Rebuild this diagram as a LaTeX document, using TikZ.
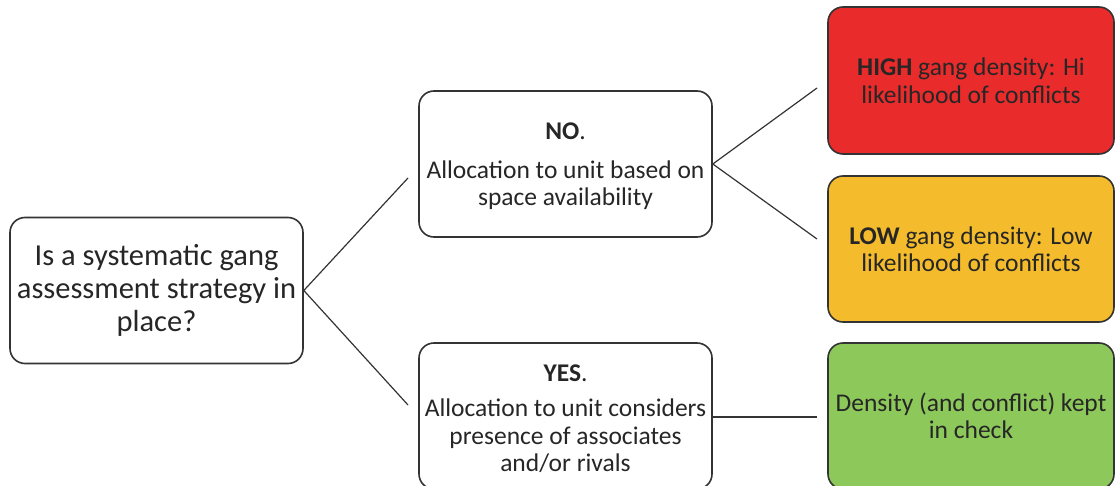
\documentclass[tikz,border=0pt]{standalone}
\usepackage{fontspec}
\setmainfont{Carlito}
\definecolor{txt}{HTML}{262626}
\definecolor{boxred}{HTML}{EA2B2B}
\definecolor{boxyellow}{HTML}{F4BC2C}
\definecolor{boxgreen}{HTML}{8DC85A}
\definecolor{edge}{HTML}{333333}
\newcommand{\topgap}{\rule{0pt}{22pt}}
\tikzset{
  box/.style={draw=edge, line width=1.6pt, rounded corners=15pt, fill=white,
    minimum width=293pt, minimum height=146pt, align=center, text=txt,
    inner sep=0pt, font=\fontsize{25.5}{27.5}\selectfont},
  bigbox/.style={box, font=\fontsize{30.5}{33}\selectfont},
  link/.style={draw=edge, line width=1.2pt}
}
\begin{document}
\begin{tikzpicture}[x=1pt, y=-1pt]
\useasboundingbox (0,0) rectangle (1115,486);
\clip (0,0) rectangle (1115,486);
\node[bigbox] (q) at (156.5,290.5) {Is a systematic gang\\assessment strategy in\\place?};
\node[box] (no) at (565.5,164) {\topgap\textbf{NO}.\\[11pt]Allocation to unit based on\\space availability};
\node[box] (yes) at (565.5,416) {\topgap\textbf{YES}.\\[8pt]Allocation to unit considers\\presence of associates\\and/or rivals};
\node[box, fill=boxred, minimum width=286pt, minimum height=147pt] (high) at (971,80.5) {\textbf{HIGH} gang density: Hi\\likelihood of conflicts};
\node[box, fill=boxyellow, minimum width=286pt] (low) at (971,249) {\textbf{LOW} gang density: Low\\likelihood of conflicts};
\node[box, fill=boxgreen, minimum width=286pt] (chk) at (971,416) {Density (and conflict) kept\\in check};
\coordinate (qa) at (408,178);
\coordinate (qb) at (408,405);
\coordinate (na) at (817,88);
\coordinate (nb) at (817,239);
\coordinate (ya) at (817,417);
\draw[link] (q.east) -- (qa);
\draw[link] (q.east) -- (qb);
\draw[link] (no.east) -- (na);
\draw[link] (no.east) -- (nb);
\draw[link] (yes.east |- ya) -- (ya);
\end{tikzpicture}
\end{document}
